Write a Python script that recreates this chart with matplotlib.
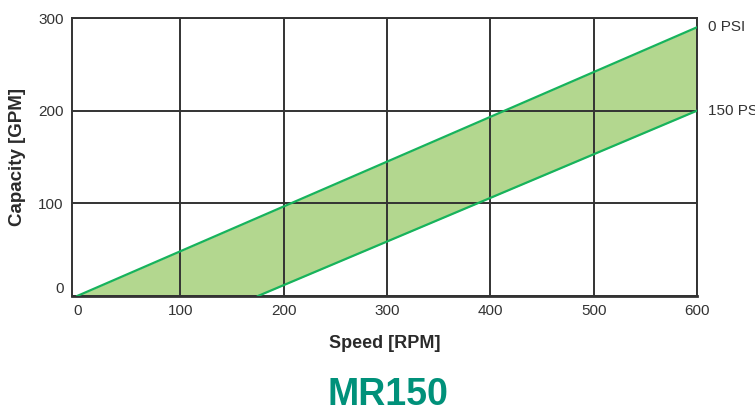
import matplotlib
matplotlib.use("Agg")
import matplotlib.pyplot as plt
import numpy as np

plt.rcParams['font.family'] = ['Liberation Sans', 'DejaVu Sans']

# Data
speed_upper = [0, 600]
cap_upper = [0, 290]      # 0 PSI
speed_lower = [175, 600]
cap_lower = [0, 200]      # 150 PSI
x_ticks = [0, 100, 200, 300, 400, 500, 600]
y_ticks = [0, 100, 200, 300]
line_labels = ["0 PSI", "150 PSI"]
title = "MR150"

fig = plt.figure(figsize=(7.55, 4.13), dpi=100)
ax = fig.add_axes([72/755, 1-296/413, (697-72)/755, (296-18)/413])

xs = np.array([0, speed_lower[0], 600])
up = np.interp(xs, speed_upper, cap_upper)
lo = np.interp(xs, speed_lower, cap_lower, left=0)
ax.fill_between(xs, lo, up, color='#b3d78f', lw=0, zorder=1)
ax.plot(speed_upper, cap_upper, color='#17b35c', lw=1.6, zorder=3)
ax.plot(speed_lower, cap_lower, color='#17b35c', lw=1.6, zorder=3)

ax.set_xlim(-5, 600)
ax.set_ylim(0, 300)
ax.set_xticks(x_ticks)
ax.set_yticks(y_ticks)
ax.grid(True, color='#333333', lw=1.4, zorder=2)
ax.set_axisbelow(False)
ax.xaxis.get_gridlines()[0].set_visible(False)
for s in ax.spines.values():
    s.set_color('#333333')
    s.set_linewidth(1.4)
ax.spines['bottom'].set_linewidth(2.0)
ax.tick_params(length=0, labelsize=11, colors='#333333', pad=6)
yl = ax.get_yticklabels()
yl[0].set_verticalalignment('bottom')

ax.set_xlabel("Speed [RPM]", fontsize=13, fontweight='bold', color='#2a2a2a', labelpad=12)
ax.set_ylabel("Capacity [GPM]", fontsize=13.5, fontweight='bold', color='#2a2a2a')
ax.yaxis.set_label_coords((26-72)/625, 0.5)

ax.text(1.018, cap_upper[1], line_labels[0], transform=ax.get_yaxis_transform(),
        fontsize=11, color='#333333', va='center', ha='left', clip_on=False)
ax.text(1.018, cap_lower[1], line_labels[1], transform=ax.get_yaxis_transform(),
        fontsize=11, color='#333333', va='center', ha='left', clip_on=False)

fig.text(388/755, 1-395/413, title, fontsize=27, fontweight='bold', color='#00917a',
         ha='center', va='center')

fig.savefig("out.png", dpi=100)
